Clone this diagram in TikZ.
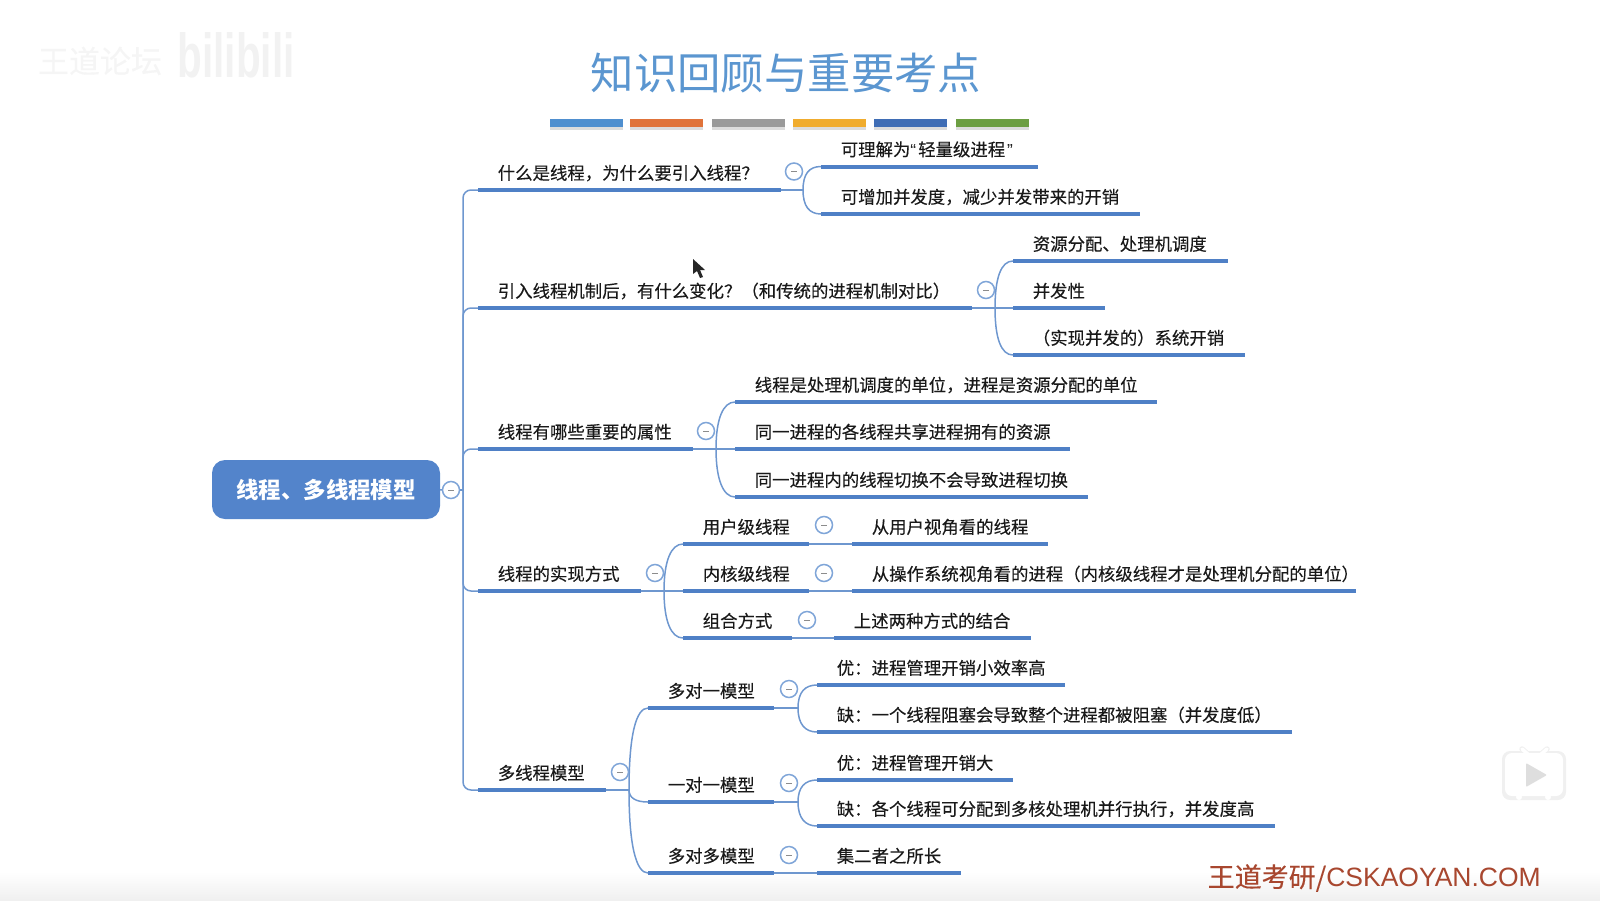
\documentclass[tikz,border=0pt]{standalone}
\usepackage{fontspec}
\setmainfont{Noto Sans CJK SC}
\newfontfamily\bodyfont[FakeBold=0.25]{Noto Sans CJK SC}
\newfontfamily\latinfont{Liberation Sans}
\usepackage{tikz}
\definecolor{barblue}{HTML}{4F80C6}
\definecolor{linkblue}{HTML}{6E97CF}
\definecolor{ringblue}{HTML}{7FA5D8}
\definecolor{rootblue}{HTML}{5384CB}
\definecolor{titleblue}{HTML}{5B96D0}
\definecolor{stampred}{HTML}{A8472F}
\tikzset{
  topic/.style={anchor=south west,text width=#1,inner xsep=0pt,inner ysep=7.3pt,text height=14pt,text depth=3pt,
    font=\bodyfont\fontsize{17.4}{20}\selectfont,text=black!90,execute at begin node={\hspace*{19.6pt}}},
  bar/.style={barblue,line width=4pt},
  link/.style={linkblue,line width=1.5pt},
  toggle/.style={circle,draw=ringblue,line width=1.5pt,fill=white,minimum size=17pt,inner sep=0pt,
    path picture={\draw[black!45,line width=1pt] ([xshift=-3pt]path picture bounding box.center) -- ([xshift=3pt]path picture bounding box.center);}},
  strip/.style={minimum width=73pt,minimum height=8pt,inner sep=0pt,anchor=north west},
}
\begin{document}
\begin{tikzpicture}[x=1pt,y=-1pt]
\useasboundingbox (0,0) rectangle (1600,900);
\shade[top color=white,bottom color=black!6] (0,872) rectangle (1600,900);

% watermarks
\node[text=black!4,font=\bodyfont\fontsize{31}{33}\selectfont,inner sep=0pt] (forum) at (100,61) {王道论坛};
\node[text=black!5,font=\latinfont\bfseries\fontsize{46}{48}\selectfont,inner sep=0pt,xscale=0.88,yscale=1.35] (bili) at (236,55) {bilibili};

% title and strips
\node[text=titleblue,font=\fontsize{43.4}{46}\selectfont,inner sep=0pt] (title) at (786,73) {知识回顾与重要考点};
\foreach \sx/\scol [count=\i] in {550/4F8FCF,630/E0733A,712/9A9A9A,793/F0AC2E,873.5/3F6DB5,956/6C9E42}{
  \definecolor{stripcol}{HTML}{\scol}
  \fill[black!30,opacity=0.45] (\sx,122) rectangle ++(73,8);
  \node[strip,fill=stripcol] (strip\i) at (\sx,119) {};
}

% root
\node[fill=rootblue,rounded corners=13pt,minimum width=228pt,minimum height=59pt,inner sep=0pt,text=white,font=\bfseries\fontsize{22.4}{24}\selectfont] (root) at (326,489.5) {线程、多线程模型};
\node[toggle] (troot) at (451,490) {};
\coordinate (froot) at (463,490);

% first level
\node[topic=303pt] (a) at (478,190) {什么是线程，为什么要引入线程？};
\node[topic=493.5pt] (b) at (478,308) {引入线程机制后，有什么变化？（和传统的进程机制对比）};
\node[topic=215pt] (c) at (478,449) {线程有哪些重要的属性};
\node[topic=163pt] (d) at (478,591) {线程的实现方式};
\node[topic=128pt] (e) at (478,790) {多线程模型};

% second level
\node[topic=217pt] (a1) at (821,166.5) {可理解为{\latinfont “}\hspace{2pt}轻量级进程\hspace{2pt}{\latinfont ”}};
\node[topic=319pt] (a2) at (821,214) {可增加并发度，减少并发带来的开销};
\node[topic=215pt] (b1) at (1013,261) {资源分配、处理机调度};
\node[topic=92pt] (b2) at (1013,308) {并发性};
\node[topic=232pt] (b3) at (1013,355) {（实现并发的）系统开销};
\node[topic=422pt] (c1) at (735,402) {线程是处理机调度的单位，进程是资源分配的单位};
\node[topic=335pt] (c2) at (735,449) {同一进程的各线程共享进程拥有的资源};
\node[topic=353pt] (c3) at (735,497) {同一进程内的线程切换不会导致进程切换};
\node[topic=126pt] (d1) at (683,544) {用户级线程};
\node[topic=126pt] (d2) at (683,591) {内核级线程};
\node[topic=109pt] (d3) at (683,638) {组合方式};
\node[topic=126pt] (e1) at (648,708) {多对一模型};
\node[topic=126pt] (e2) at (648,802) {一对一模型};
\node[topic=126pt] (e3) at (648,873) {多对多模型};

% third level
\node[topic=196pt] (d11) at (852,544) {从用户视角看的线程};
\node[topic=504pt] (d21) at (852,591) {从操作系统视角看的进程（内核级线程才是处理机分配的单位）};
\node[topic=197pt] (d31) at (834,638) {上述两种方式的结合};
\node[topic=248pt] (e11) at (817,685) {优：进程管理开销小效率高};
\node[topic=475pt] (e12) at (817,732) {缺：一个线程阻塞会导致整个进程都被阻塞（并发度低）};
\node[topic=196pt] (e21) at (817,780) {优：进程管理开销大};
\node[topic=457.5pt] (e22) at (817,826) {缺：各个线程可分配到多核处理机并行执行，并发度高};
\node[topic=144pt] (e31) at (817,873) {集二者之所长};

% forks
\coordinate (fa) at (803,190);
\coordinate (fb) at (995,308);
\coordinate (fc) at (716,449);
\coordinate (fd) at (664,591);
\coordinate (fe) at (629,790);
\coordinate (fe1) at (798,708);
\coordinate (fe2) at (798,802);

\draw[link] (root) -- (troot);
\draw[link] (troot) -- (froot);
\foreach \n in {a,b,c,d,e}
  \draw[link,rounded corners=8pt] (froot) |- (\n.south west);
\foreach \p/\f in {a/fa,b/fb,c/fc,d/fd,e/fe,e1/fe1,e2/fe2}
  \draw[link] (\p.south east) -- (\f);
\foreach \f/\c/\dy in {fa/a1/-16,fa/a2/16,fb/b1/-30,fb/b3/30,fc/c1/-30,fc/c3/30,fd/d1/-30,fd/d3/30,fe/e1/-55,fe/e2/8,fe/e3/55,fe1/e11/-16,fe1/e12/16,fe2/e21/-15,fe2/e22/16}
  \draw[link] (\f) .. controls +(0,\dy) and +(-12,0) .. (\c.south west);
\foreach \f/\c in {fb/b2,fc/c2,fd/d2}
  \draw[link] (\f) -- (\c.south west);
\foreach \p/\c in {d1/d11,d2/d21,d3/d31,e3/e31}
  \draw[link] (\p.south east) -- (\c.south west);

% underlines
\foreach \n in {a,b,c,d,e,a1,a2,b1,b2,b3,c1,c2,c3,d1,d2,d3,e1,e2,e3,d11,d21,d31,e11,e12,e21,e22,e31}
  \draw[bar] (\n.south west) -- (\n.south east);

% toggles
\node[toggle] (ta) at (794,171.5) {};
\node[toggle] (tb) at (986,290) {};
\node[toggle] (tc) at (706,431) {};
\node[toggle] (td) at (655,573) {};
\node[toggle] (te) at (620,772) {};
\node[toggle] (td1) at (824,525) {};
\node[toggle] (td2) at (824,573) {};
\node[toggle] (td3) at (807,620) {};
\node[toggle] (te1) at (789,689) {};
\node[toggle] (te2) at (789,783) {};
\node[toggle] (te3) at (789,855) {};

% mouse pointer
\fill[black!85] (693,259) -- (693,274) -- (697,271) -- (700,278) -- (703,277) -- (700,270) -- (705,270) -- cycle;

% tv badge
\fill[black!6,rounded corners=8pt] (1502,751) rectangle (1566,800);
\draw[black!6,line width=5.5pt,line cap=round] (1522,749) -- (1530,756) (1547,749) -- (1539,756);
\draw[white,line width=3.5pt,line cap=round] (1522,749) -- (1530,756) (1547,749) -- (1539,756);
\fill[white,rounded corners=7pt] (1505,753) rectangle (1563,796);
\fill[white] (1519,797) circle (3pt) (1548,797) circle (3pt);
\fill[black!13,rounded corners=1pt] (1526,763) -- (1547,775) -- (1526,787) -- cycle;

% stamp
\node[text=stampred,font=\bodyfont\fontsize{27}{28}\selectfont,inner sep=0pt,anchor=east] (stamp) at (1541,878) {王道考研/{\latinfont\fontsize{26.5}{28}\selectfont CSKAOYAN.COM}};
\end{tikzpicture}
\end{document}
